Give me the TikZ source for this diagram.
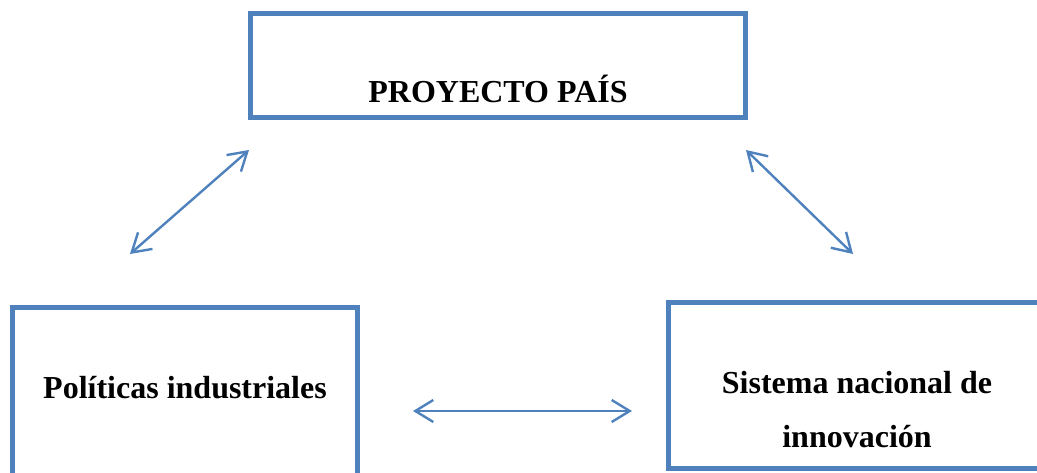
\documentclass[tikz,border=0pt]{standalone}
\usepackage{fontspec}
\setmainfont{Liberation Serif}
\usepackage{tikz}
\usetikzlibrary{arrows.meta,positioning}
\definecolor{azul}{RGB}{79,129,189}
\tikzset{>={Straight Barb[length=18pt,width=22pt]}}
\tikzset{
  caja/.style={draw=azul, line width=5pt, rectangle},
  texto/.style={font=\bfseries\fontsize{32}{54}\selectfont, align=center, inner sep=0pt},
  flecha/.style={<->, draw=azul, line width=2.4pt}
}

\begin{document}
\begin{tikzpicture}[x=1pt,y=-1pt]
  \useasboundingbox (0,0) rectangle (1037,473);

  % cajas
  \node[caja, minimum width=495pt, minimum height=104pt] (proyecto) at (497.5,66) {};
  \node[caja, minimum width=345pt, minimum height=182pt] (politicas) at (184.5,399) {};
  \node[caja, minimum width=400pt, minimum height=165pt] (sistema) at (868,385.5) {};

  % textos
  \node[texto, anchor=base] (proyecto-t) at (498,103) {PROYECTO PAÍS};
  \node[texto, anchor=base] (politicas-t) at (185,398) {Políticas industriales};
  \node[texto] (sistema-t) at (857,410) {Sistema nacional de\\innovación};

  % flechas
  \coordinate (izq-a) at (249,150);
  \coordinate (izq-b) at (130,254);
  \coordinate (der-a) at (746,150);
  \coordinate (der-b) at (853,254);
  \coordinate (hor-a) at (413,411);
  \coordinate (hor-b) at (632,411);

  \draw[flecha] (izq-b) -- (izq-a);
  \draw[flecha] (der-a) -- (der-b);
  \draw[flecha] (hor-a) -- (hor-b);
\end{tikzpicture}
\end{document}
